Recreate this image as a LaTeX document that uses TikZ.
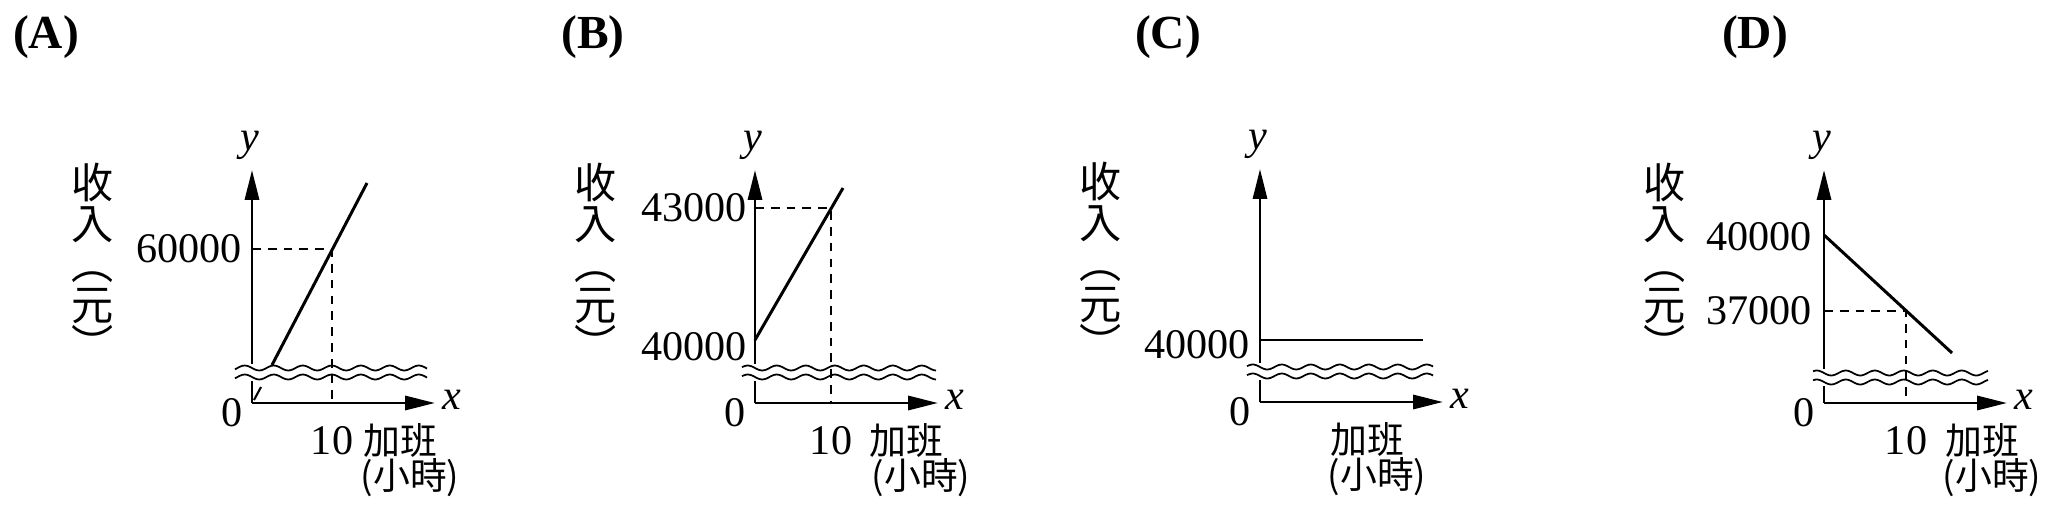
\documentclass[tikz,border=0pt]{standalone}
\usepackage{fontspec}
\setmainfont{Liberation Serif}
\newfontfamily\cjk{Noto Sans CJK TC}
\usetikzlibrary{arrows.meta,positioning}

\begin{document}
\begin{tikzpicture}[
    x=0.02cm,y=-0.02cm,
    axis/.style={line width=1.6pt,-{Triangle[length=17pt,width=8pt]}},
    graph/.style={line width=1.7pt},
    guide/.style={line width=0.9pt,dash pattern=on 5pt off 4pt},
    wave/.style={line width=1pt},
    num/.style={font=\fontsize{24}{24}\selectfont,inner sep=1pt},
    var/.style={font=\fontsize{24}{24}\selectfont\itshape,inner sep=1pt},
    unit/.style={font=\fontsize{21}{21}\selectfont\cjk,inner sep=1pt},
    ylab/.style={font=\fontsize{24}{23}\selectfont\cjk,align=center,inner sep=0pt},
    title/.style={font=\fontsize{27}{27}\selectfont\bfseries}
]
\useasboundingbox (0,0) rectangle (2057,520);

% Titles
\node[title] (tA) at (46,37) {(A)};
\node[title] (tB) at (593,37) {(B)};
\node[title] (tC) at (1168,37) {(C)};
\node[title] (tD) at (1755,37) {(D)};

% Panels: origin / wave start / wave end / wave y / label x
\foreach \ox/\oy/\ws/\we/\wy/\lx/\ux in {252/403/-17/175/-35/148/158,755/403/-13/181/-35/151/166,1260/402/-13/173/-35/107/117,1824/403/-11/164/-30/158/168} {
  \begin{scope}[shift={(\ox,\oy)}]
    \coordinate (o) at (0,0);
    \coordinate (xt) at (183,0);
    \coordinate (yt) at (0,-233);
    \draw[axis] (o) -- (xt);
    \draw[axis] (o) -- (yt);
    \fill[white] (-6,\wy-4) rectangle (6,\wy+13);
    \draw[wave] plot[domain=\ws:\we,samples=80,smooth] (\x,{\wy+2.5*sin(12.414*\x)});
    \draw[wave] plot[domain=\ws:\we,samples=80,smooth] (\x,{\wy+9+2.5*sin(12.414*\x)});
    \node[num] (zero) at (-20,10) {0};
    \node[var,anchor=west] (xl) at (188,-3) {x};
    \node[var] (yl) at (-2,-258) {y};
    \node[unit] (ot) at (\lx,37) {加班};
    \node[unit] (hr) at (\ux,75) {(小時)};
    \node[ylab] (inc) at (-159,-141) {收\\入\\︵\\元\\︶};
  \end{scope}
}

% (A)
\begin{scope}[shift={(252,403)}]
  \coordinate (a0) at (20,-38);
  \coordinate (a1) at (115,-220);
  \coordinate (aP) at (80,-154);
  \draw[graph] (a0) -- (a1);
  \draw[line width=1.2pt] (2,-3) -- (9,-16);
  \draw[guide] (0,-154) -- (aP) -- (80,0);
  \node[num,anchor=east] (a60) at (-8,-154) {60000};
  \node[num] (a10) at (80,38) {10};
\end{scope}

% (B)
\begin{scope}[shift={(755,403)}]
  \coordinate (b0) at (0,-63);
  \coordinate (b1) at (88,-215);
  \coordinate (bP) at (76,-195);
  \draw[graph] (b0) -- (b1);
  \draw[guide] (0,-195) -- (bP) -- (76,0);
  \node[num,anchor=east] (b43) at (-6,-195) {43000};
  \node[num,anchor=east] (b40) at (-6,-56) {40000};
  \node[num] (b10) at (76,38) {10};
\end{scope}

% (C)
\begin{scope}[shift={(1260,402)}]
  \coordinate (c0) at (0,-62);
  \coordinate (c1) at (163,-62);
  \draw[graph] (c0) -- (c1);
  \node[num,anchor=east] (c40) at (-8,-57) {40000};
\end{scope}

% (D)
\begin{scope}[shift={(1824,403)}]
  \coordinate (d0) at (0,-168);
  \coordinate (d1) at (128,-50);
  \coordinate (dP) at (82,-92);
  \draw[graph] (d0) -- (d1);
  \draw[guide] (0,-92) -- (dP) -- (82,0);
  \node[num,anchor=east] (d40) at (-10,-166) {40000};
  \node[num,anchor=east] (d37) at (-10,-92) {37000};
  \node[num] (d10) at (82,38) {10};
\end{scope}

\end{tikzpicture}
\end{document}
